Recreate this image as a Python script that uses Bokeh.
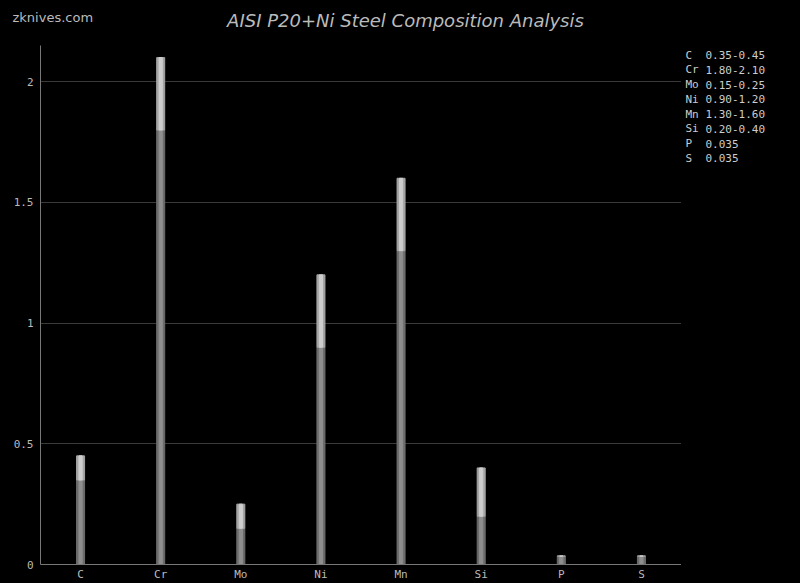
from bokeh.plotting import figure
from bokeh.models import ColumnDataSource, Range1d, FixedTicker, GlobalInlineStyleSheet
from bokeh.layouts import column, row
from bokeh.core.properties import value
from bokeh.embed import file_html
from bokeh.resources import INLINE

elements = ["C", "Cr", "Mo", "Ni", "Mn", "Si", "P", "S"]
min_vals = [0.35, 1.80, 0.15, 0.90, 1.30, 0.20, 0.035, 0.035]
max_vals = [0.45, 2.10, 0.25, 1.20, 1.60, 0.40, 0.035, 0.035]
legend_ranges = ["0.35-0.45", "1.80-2.10", "0.15-0.25", "0.90-1.20",
                 "1.30-1.60", "0.20-0.40", "0.035", "0.035"]
y_ticks = [0, 0.5, 1, 1.5, 2]
title_text = "AISI P20+Ni Steel Composition Analysis"
site_text = "zknives.com"

W, H = 800, 583
TOP_H = 45
MAIN_W = 681
LEG_W = W - MAIN_W
MAIN_H = H - TOP_H
FL = 40
FB = 16
YMAX = 2.15
N = len(elements)
BG = "#000000"


def blank(w, h):
    f = figure(width=w, height=h, x_range=Range1d(0, w), y_range=Range1d(h, 0),
               x_axis_type=None, y_axis_type=None, output_backend="svg", toolbar_location=None,
               min_border=0)
    f.background_fill_color = BG
    f.border_fill_color = BG
    f.outline_line_color = None
    return f


# header
top = blank(W, TOP_H)
top.text(x=[405], y=[20], text=[title_text], text_font=value("DejaVu Sans"),
         text_font_style="italic", text_font_size="18px", text_color="#bbbbbb",
         text_baseline="middle", text_align="center")
top.text(x=[12], y=[17], text=[site_text], text_font=value("DejaVu Sans"),
         text_font_size="13px", text_color="#bbbbbb", text_baseline="middle")

# main chart
xpos = [i + 0.5 for i in range(N)]
src = ColumnDataSource(dict(x=xpos, lo=min_vals, hi=max_vals, zero=[0] * N))

p = figure(width=MAIN_W, height=MAIN_H, x_range=Range1d(0, N), y_range=Range1d(0, YMAX),
           output_backend="svg", toolbar_location=None,
           min_border_left=FL, min_border_right=0, min_border_top=0, min_border_bottom=FB)
p.background_fill_color = BG
p.border_fill_color = BG
p.outline_line_color = None

p.vbar(x="x", bottom="zero", top="lo", width=0.1, source=src, color="#6c6c6c")
p.vbar(x="x", bottom="zero", top="lo", width=0.04, source=src, color="#8e8e8e")
p.vbar(x="x", bottom="lo", top="hi", width=0.1, source=src, color="#a4a4a4")
p.vbar(x="x", bottom="lo", top="hi", width=0.04, source=src, color="#cdcdcd")

p.xgrid.grid_line_color = None
p.ygrid.grid_line_color = "#3a3a3a"
p.xaxis.ticker = FixedTicker(ticks=xpos)
p.xaxis.major_label_overrides = {x: e for x, e in zip(xpos, elements)}
p.yaxis.ticker = FixedTicker(ticks=y_ticks)
p.yaxis.major_label_overrides = {0: "0", 0.5: "0.5", 1: "1", 1.5: "1.5", 2: "2"}
for ax in (p.xaxis[0], p.yaxis[0]):
    ax.axis_line_color = "#777777"
    ax.major_tick_line_color = None
    ax.minor_tick_line_color = None
    ax.major_tick_out = 0
    ax.major_tick_in = 0
    ax.major_label_text_color = "#bbbbbb"
    ax.major_label_text_font = "DejaVu Sans Mono"
    ax.major_label_text_font_size = "11px"
p.xaxis.major_label_standoff = 3
p.yaxis.major_label_standoff = 7

# legend panel
leg = blank(LEG_W, MAIN_H)
leg_y = [10 + i * 15.3 for i in range(N)]
leg.text(x=[4] * N, y=leg_y, text=elements,
         text_font=value("DejaVu Sans Mono"), text_font_size="11px", text_color="#cccccc",
         text_baseline="middle")
leg.text(x=[24] * N, y=leg_y, text=legend_ranges,
         text_font=value("DejaVu Sans Mono"), text_font_size="11px", text_color="#cccccc",
         text_baseline="middle")

layout = column(top, row(p, leg, spacing=0), spacing=0)
layout.stylesheets = [GlobalInlineStyleSheet(css="html,body{background:#000;margin:0;padding:0;overflow:hidden;}")]

open("out.html", "w").write(file_html(layout, INLINE))
